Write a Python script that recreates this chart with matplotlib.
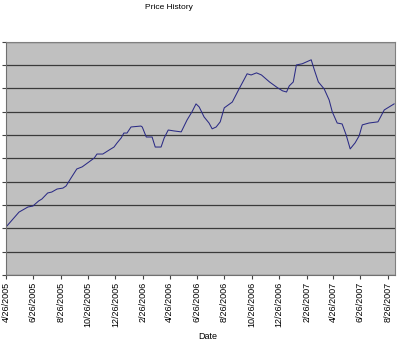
import matplotlib
matplotlib.use('Agg')
import matplotlib.pyplot as plt
import numpy as np
import datetime as dt

plt.rcParams['font.family'] = ['Liberation Sans', 'DejaVu Sans']

# price series (arbitrary units)
dates = ['2005-04-26', '2005-05-25', '2005-06-14', '2005-06-25', '2005-07-08', '2005-07-15',
         '2005-07-28', '2005-08-06', '2005-08-18', '2005-08-31', '2005-09-07', '2005-09-18',
         '2005-10-01', '2005-10-13', '2005-10-28', '2005-11-09', '2005-11-15', '2005-11-28',
         '2005-12-12', '2005-12-23', '2005-12-30', '2006-01-08', '2006-01-14', '2006-01-21',
         '2006-01-30', '2006-02-21', '2006-02-24', '2006-03-05', '2006-03-18', '2006-03-25',
         '2006-04-07', '2006-04-14', '2006-04-23', '2006-05-06', '2006-05-22', '2006-06-04',
         '2006-06-15', '2006-06-24', '2006-07-01', '2006-07-12', '2006-07-23', '2006-07-30',
         '2006-08-08', '2006-08-17', '2006-08-26', '2006-09-13', '2006-09-28', '2006-10-10',
         '2006-10-16', '2006-10-25', '2006-11-06', '2006-11-17', '2006-12-05', '2006-12-23',
         '2007-01-03', '2007-01-12', '2007-01-18', '2007-01-27', '2007-02-03', '2007-02-16',
         '2007-03-08', '2007-03-15', '2007-03-24', '2007-04-06', '2007-04-17', '2007-04-24',
         '2007-05-05', '2007-05-16', '2007-05-25', '2007-06-03', '2007-06-14', '2007-06-23',
         '2007-06-30', '2007-07-15', '2007-08-04', '2007-08-18', '2007-08-29', '2007-09-09']
price = [20.6, 27.0, 29.2, 29.6, 31.8, 32.6, 35.2, 35.6, 36.9, 37.3, 38.2, 41.6,
         45.5, 46.4, 48.5, 50.2, 51.9, 51.9, 53.6, 54.9, 56.7, 58.8, 60.9, 60.9,
         63.5, 63.9, 63.5, 59.2, 59.2, 54.9, 54.9, 58.8, 62.2, 61.8, 61.4, 66.5,
         70.0, 73.4, 72.1, 67.8, 65.2, 62.7, 63.5, 65.7, 71.7, 74.2, 79.8, 84.1,
         86.3, 85.8, 86.7, 85.8, 82.8, 80.3, 79.0, 78.5, 81.1, 82.8, 90.1, 90.6,
         92.3, 88.0, 82.8, 79.8, 75.1, 70.0, 65.2, 64.8, 60.1, 54.1, 56.7, 59.7,
         64.4, 65.2, 65.7, 70.8, 72.1, 73.4]

tick_dates = ['2005-04-26', '2005-06-26', '2005-08-26', '2005-10-26', '2005-12-26',
              '2006-02-26', '2006-04-26', '2006-06-26', '2006-08-26', '2006-10-26',
              '2006-12-26', '2007-02-26', '2007-04-26', '2007-06-26', '2007-08-26']

x = [dt.datetime.strptime(d, '%Y-%m-%d') for d in dates]
xt = [dt.datetime.strptime(d, '%Y-%m-%d') for d in tick_dates]
xt_labels = [f'{d.month}/{d.day}/{d.year}' for d in xt]

fig = plt.figure(figsize=(4, 3.43), dpi=100)
ax = fig.add_axes([0.015, 0.198, 0.9725, 0.68])
ax.set_facecolor('#c0c0c0')

ax.plot(x, price, color='#2b2b85', lw=0.75)

ax.set_ylim(0, 100)
ax.set_yticks(np.arange(0, 101, 10))
ax.set_yticklabels([])
ax.yaxis.grid(True, color='#3a3a3a', lw=0.9)
ax.set_axisbelow(True)
ax.tick_params(axis='y', length=3, width=0.8, color='#444444')

ax.set_xlim(xt[0], dt.datetime(2007, 9, 11))
ax.set_xticks(xt)
ax.set_xticklabels(xt_labels, rotation=90, fontsize=6.5)
ax.tick_params(axis='x', length=3, width=0.8, color='#444444', pad=2)

for s in ax.spines.values():
    s.set_color('#808080')
    s.set_linewidth(0.8)
ax.spines['left'].set_color('#707070')
ax.spines['bottom'].set_color('#707070')

fig.text(0.4225, 0.988, 'Price History', ha='center', va='top', fontsize=6)
fig.text(0.52, 0.005, 'Date', ha='center', va='bottom', fontsize=6.5)

fig.savefig('out.png', dpi=100, facecolor='white')
